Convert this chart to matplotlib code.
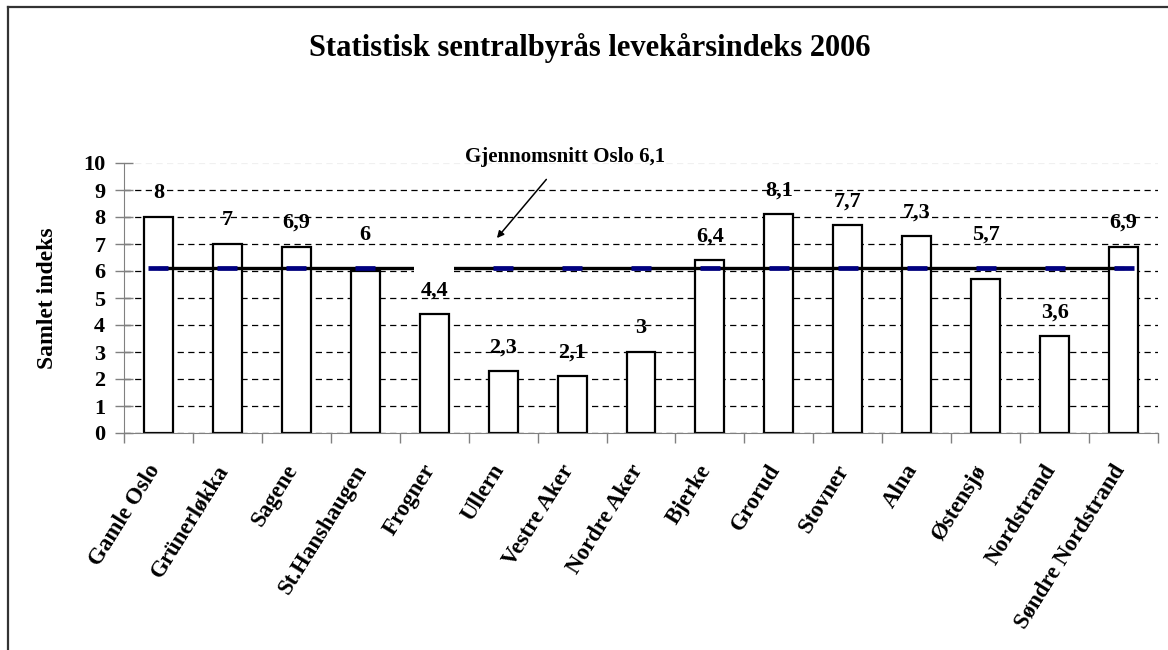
#!/usr/bin/env python3
import matplotlib
matplotlib.use('Agg')
import matplotlib.pyplot as plt
import matplotlib.transforms as mtransforms
from matplotlib.lines import Line2D
from matplotlib.patches import Rectangle

bydeler = ['Gamle Oslo', 'Grünerløkka', 'Sagene', 'St.Hanshaugen', 'Frogner',
           'Ullern', 'Vestre Aker', 'Nordre Aker', 'Bjerke', 'Grorud',
           'Stovner', 'Alna', 'Østensjø', 'Nordstrand', 'Søndre Nordstrand']
indeks = [8, 7, 6.9, 6, 4.4, 2.3, 2.1, 3, 6.4, 8.1, 7.7, 7.3, 5.7, 3.6, 6.9]
snitt_oslo = 6.1
y_ticks = list(range(0, 11))

plt.rcParams['font.family'] = ['Liberation Serif', 'DejaVu Serif']
plt.rcParams['font.weight'] = 'bold'

fig = plt.figure(figsize=(11.68, 6.5), dpi=100)
ax = fig.add_axes([124 / 1168, 1 - 433 / 650, (1158 - 124) / 1168, 270 / 650])

x = list(range(len(bydeler)))

# gjennomsnittslinje
ax.plot(x, [snitt_oslo] * len(x), color='black', lw=2.4, zorder=3,
        solid_capstyle='butt')
ax.plot(x, [snitt_oslo] * len(x), ls='none', marker='_', ms=15, mew=3.4,
        color='#000080', zorder=4)

# hvitt felt over linja ved Frogner (som i originalen)
ax.add_patch(Rectangle((4 - 0.29, snitt_oslo - 0.18), 0.58, 0.36,
                       facecolor='white', edgecolor='none', zorder=5))

ax.bar(x, indeks, width=0.42, color='white', edgecolor='black', lw=1.6,
       zorder=2)

# dataetiketter
for i, v in enumerate(indeks):
    label = f'{v:g}'.replace('.', ',')
    if v < snitt_oslo and snitt_oslo - v < 0.5:
        base, off = snitt_oslo, 24
    else:
        base, off = v, 17
    ax.annotate(label, (i, base), xytext=(0, off), textcoords='offset points',
                ha='center', va='center', fontsize=16, fontweight='bold',
                zorder=6)

ax.set_xlim(-0.5, len(bydeler) - 0.5)
ax.set_ylim(0, 10)
ax.set_yticks(y_ticks)
ax.set_yticklabels([str(t) for t in y_ticks], fontsize=16, fontweight='bold')
ax.tick_params(axis='y', direction='inout', length=13, color='#808080',
               width=1, pad=7)

ax.set_xticks(x)
ax.set_xticklabels(bydeler, rotation=58, ha='right', va='top',
                   rotation_mode='anchor', fontsize=16.5, fontweight='bold')
ax.tick_params(axis='x', length=0, pad=20)
ax.set_xticks([i + 0.5 for i in range(-1, len(bydeler))], minor=True)
ax.tick_params(axis='x', which='minor', direction='out', length=7,
               color='#808080', width=1)
shift = mtransforms.ScaledTranslation(-12 / 100, 0, fig.dpi_scale_trans)
for lab in ax.get_xticklabels():
    lab.set_transform(lab.get_transform() + shift)

ax.yaxis.grid(True, color='black', linestyle=(0, (5, 3.5)), lw=0.9)
ax.set_axisbelow(True)
glines = ax.get_ygridlines()
glines[-1].set_color('#f0f0f0')

for s in ['top', 'right']:
    ax.spines[s].set_visible(False)
ax.spines['left'].set_color('#808080')
ax.spines['bottom'].set_color('#808080')

ax.set_ylabel('Samlet indeks', fontsize=17, fontweight='bold', labelpad=18)

ax.annotate('Gjennomsnitt Oslo 6,1', xy=(4.91, 7.22), xytext=(5.9, 10.22),
            ha='center', va='center', fontsize=15, fontweight='bold',
            annotation_clip=False,
            arrowprops=dict(arrowstyle='-|>', color='black', lw=1.1,
                            shrinkA=9, shrinkB=0, mutation_scale=10))

fig.text(0.505, 1 - 48 / 650, 'Statistisk sentralbyrås levekårsindeks 2006',
         ha='center', va='center', fontsize=22, fontweight='bold')

# ramme rundt diagrammet
fig.add_artist(Line2D([8 / 1168, 8 / 1168], [0, 1 - 7 / 650], color='#333333',
                      lw=1.6, transform=fig.transFigure))
fig.add_artist(Line2D([8 / 1168, 1], [1 - 7 / 650, 1 - 7 / 650],
                      color='#333333', lw=1.6, transform=fig.transFigure))

plt.savefig('out.png', dpi=100)
